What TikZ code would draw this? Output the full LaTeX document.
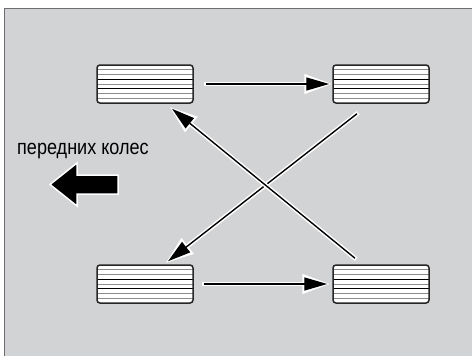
\documentclass[tikz,border=0pt]{standalone}
\usepackage{fontspec}
\setmainfont{Liberation Sans}[FakeStretch=0.86]
\usetikzlibrary{arrows.meta}

\definecolor{panel}{HTML}{D2D3D5}
\definecolor{rim}{HTML}{6E6E70}
\tikzset{
  tire/.style={draw=black!85, line width=1.5pt, fill=white, rounded corners=3pt,
    minimum width=96pt, minimum height=38pt, inner sep=0pt,
    path picture={
      \foreach \k/\c in {1/black!45,2/black!45,3/black,4/black!45,5/black,6/black!45,7/black!45}
        \draw[\c, line width=0.8pt]
          ([yshift=-\k*4.75pt]path picture bounding box.north west) --
          ([yshift=-\k*4.75pt]path picture bounding box.north east);
    }},
  move/.style={line width=1.4pt, -{Triangle[length=23pt,width=13pt]},
    preaction={draw=white, line width=4.5pt, shorten >=-3pt, shorten <=-1.5pt,
      -{Triangle[length=28pt,width=19pt]}}},
}

\begin{document}
\begin{tikzpicture}[x=1pt, y=-1pt, every node/.style={font=\fontsize{21}{24}\selectfont}]
  \useasboundingbox (0,0) rectangle (472,356);
  \fill[panel] (4.5,8.5) rectangle (472,356);
  \draw[rim, line width=1.5pt] (4.5,356) -- (4.5,8.5) -- (472,8.5);

  % tires
  \foreach \x/\y/\name in {145/84/tl,381/84/tr,145/284/bl,381/284/br}
    \node[tire] (\name) at (\x,\y) {};

  \draw[move] ([xshift=12pt]tl.east) -- ([xshift=-3pt]tr.west);
  \draw[move] ([xshift=10pt]bl.east) -- ([xshift=-5pt]br.west);
  \draw[move] ([shift={(-24,10)}]tr.south) -- ([shift={(23,-3)}]bl.north);
  \draw[move] ([shift={(-26,-6)}]br.north) -- ([shift={(27,5)}]tl.south);

  % direction
  \node[anchor=base west, inner sep=0pt] (lbl) at (17,154) {передних колес};
  \draw[fill=black, draw=white, line width=1.5pt, line join=miter]
    (50,184.5) -- (77,163) -- (77,175) -- (118,175) -- (118,194)
    -- (77,194) -- (77,206) -- cycle;
\end{tikzpicture}
\end{document}
